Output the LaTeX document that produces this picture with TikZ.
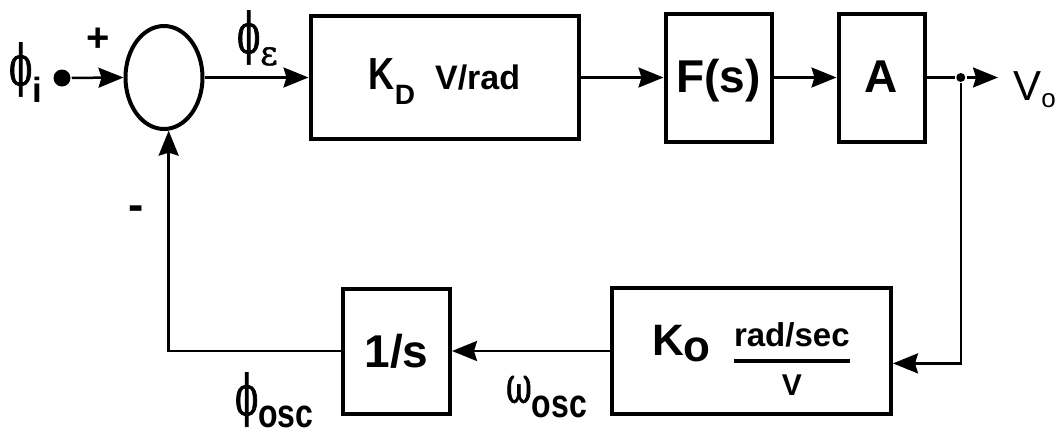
\documentclass[tikz,border=0pt]{standalone}
\usepackage{amsmath}
\usepackage{fontspec}
\setmainfont{Liberation Sans}
\newfontfamily\phifont[FakeStretch=0.6, FakeBold=1.2]{DejaVu Serif}
\newfontfamily\greekfont[FakeBold=1.2]{DejaVu Serif}
\newfontfamily\narrowfont[FakeStretch=0.8]{Liberation Sans}
\usetikzlibrary{positioning, arrows.meta, shapes.geometric}
\newcommand{\fsz}[1]{\fontsize{#1pt}{#1pt}\selectfont}

\begin{document}
\begin{tikzpicture}[x=1pt, y=1pt, >={Stealth[length=25pt,width=20pt,inset=3pt]},
    line width=2.5pt,
    block/.style={draw, rectangle, line width=4pt, inner sep=0pt, minimum height=128pt,
                  text height=36pt, text depth=6pt, font=\fsz{46}\bfseries},
    sumnode/.style={draw, ellipse, line width=4pt, inner sep=0pt,
                    minimum width=77pt, minimum height=103pt},
    lbl/.style={inner sep=0pt, anchor=base west, font=\fsz{42}},
    junction/.style={circle, fill, inner sep=0pt, minimum size=#1}]
      \useasboundingbox (0,0) rectangle (1058,-437);

      \node[sumnode] (sum) at (164,-77.5) {};
      \node[block, minimum width=268pt, minimum height=123pt, text height=35pt, text depth=12pt]
            (kd) [right=104pt of sum]
            {{\narrowfont\fsz{45}K}\raisebox{-15pt}{\fsz{28}D}\hspace{20pt}{\fsz{34}V/rad}};
      \node[block, minimum width=106pt] (fs) [right=83pt of kd] {F(s)};
      \node[block, minimum width=86pt] (amp) [right=63pt of fs] {A};
      \node[block, minimum width=279pt, minimum height=126pt, text height=40pt, text depth=32pt]
            (ko) at (751.5,-351)
            {{\fsz{44}K}\raisebox{-6pt}{\fsz{44}o}\hspace{22pt}%
             \raisebox{-12pt}{$\genfrac{}{}{4pt}{0}{\hbox{\fsz{33}\bfseries rad/sec}}{\hbox{\fsz{30}\bfseries V}}$}};
      \node[block, minimum width=107pt, minimum height=125pt, text depth=3pt]
            (integ) [left=158pt of ko] {1/s};

      \node[junction=17pt] (indot) at (62,-78) {};
      \node[junction=9pt, right=28.5pt of amp] (outdot) {};

      \node[lbl] (phiin) at (8,-85) {{\phifont\fsz{56}ϕ}\raisebox{-17pt}{\fsz{35}\bfseries i}};
      \node[lbl] (phierr) at (236,-53) {{\phifont\fsz{56}ϕ}\raisebox{-12pt}{\greekfont\fsz{34}ε}};
      \node[lbl] (phiosc) at (234,-415) {{\phifont\fsz{56}ϕ}\raisebox{-12pt}{\narrowfont\bfseries\fsz{40}osc}};
      \node[lbl] (wosc) at (505,-403) {{\phifont\fsz{52}ω}\raisebox{-14pt}{\narrowfont\bfseries\fsz{40}osc}};
      \node[lbl] (vo) at (1012,-100) {V\raisebox{-7pt}{\fsz{26}o}};
      \node (plus) at (98,-40) {\fsz{40}\bfseries +};
      \node (minus) at (136.5,-213.5) {\fsz{46}\bfseries -};

      \path[->] (indot) edge (sum.west)
                (sum) edge (kd)
                (kd) edge (fs)
                (fs) edge (amp)
                (ko) edge (integ);
      \draw (amp) -- (outdot);
      \draw[->, shorten >=14pt] (outdot) -- (vo.west |- outdot);
      \draw[->] (outdot) |- (ko.-5);
      \draw[->] (integ) -| (sum.-85);
\end{tikzpicture}
\end{document}
